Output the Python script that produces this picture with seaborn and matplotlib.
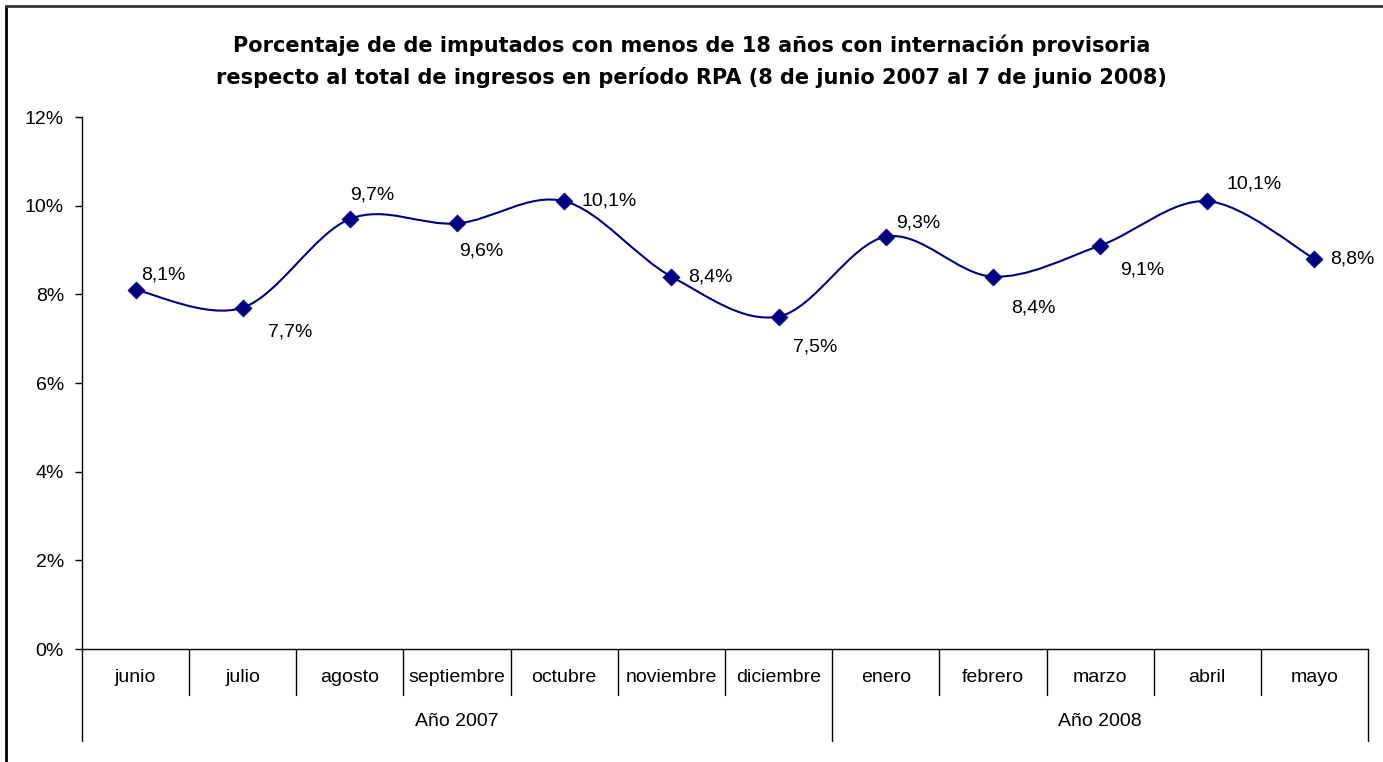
import matplotlib
matplotlib.use("Agg")
import matplotlib.pyplot as plt
import seaborn as sns
import numpy as np
import pandas as pd
from matplotlib.path import Path
from matplotlib.patches import PathPatch
from matplotlib.ticker import FuncFormatter
from matplotlib.lines import Line2D
import matplotlib.transforms as mtransforms

# ---- data ----
months = ["junio", "julio", "agosto", "septiembre", "octubre", "noviembre",
          "diciembre", "enero", "febrero", "marzo", "abril", "mayo"]
years = ["Año 2007", "Año 2008"]
months_per_year = [7, 5]
values = [8.1, 7.7, 9.7, 9.6, 10.1, 8.4, 7.5, 9.3, 8.4, 9.1, 10.1, 8.8]
labels = ["8,1%", "7,7%", "9,7%", "9,6%", "10,1%", "8,4%",
          "7,5%", "9,3%", "8,4%", "9,1%", "10,1%", "8,8%"]
yticks = [0, 2, 4, 6, 8, 10, 12]
title1 = "Porcentaje de de imputados con menos de 18 años con internación provisoria"
title2 = "respecto al total de ingresos en período RPA (8 de junio 2007 al 7 de junio 2008)"

# label offsets in pixels (dx to left edge of text, dy up)
label_offsets = [(6, 15), (25, -24), (0, 24), (2, -28), (17, 0), (17, 0),
                 (14, -30), (10, 14), (18, -31), (20, -24), (19, 17), (16, 0)]

sns.set_style("white")
plt.rcParams["font.family"] = ["Liberation Sans", "DejaVu Sans"]
plt.rcParams["text.color"] = "black"
plt.rcParams["axes.labelcolor"] = "black"
plt.rcParams["xtick.color"] = "black"
plt.rcParams["ytick.color"] = "black"

W, H = 1383, 762
fig = plt.figure(figsize=(W / 100, H / 100), dpi=100)
ax_l, ax_r, ax_t, ax_b = 82, 1368, 117, 649
ax = fig.add_axes([ax_l / W, 1 - ax_b / H, (ax_r - ax_l) / W, (ax_b - ax_t) / H])

df = pd.DataFrame({"x": np.arange(len(months)), "v": values})
navy = "#000080"

# smooth curve (Catmull-Rom style Bezier through the data points)
xs = df["x"].to_numpy(float)
ys = df["v"].to_numpy(float)
verts = [(xs[0], ys[0])]
codes = [Path.MOVETO]
n = len(xs)
for i in range(n - 1):
    p0 = np.array([xs[max(i - 1, 0)], ys[max(i - 1, 0)]])
    p1 = np.array([xs[i], ys[i]])
    p2 = np.array([xs[i + 1], ys[i + 1]])
    p3 = np.array([xs[min(i + 2, n - 1)], ys[min(i + 2, n - 1)]])
    c1 = p1 + (p2 - p0) / 6.0
    c2 = p2 - (p3 - p1) / 6.0
    verts += [tuple(c1), tuple(c2), tuple(p2)]
    codes += [Path.CURVE4] * 3
ax.add_patch(PathPatch(Path(verts, codes), facecolor="none", edgecolor=navy,
                       lw=1.5, zorder=2))

sns.scatterplot(data=df, x="x", y="v", marker="D", s=75, color=navy,
                edgecolor=navy, linewidth=0.5, zorder=3, ax=ax, legend=False)

for i, (lab, (dx, dy)) in enumerate(zip(labels, label_offsets)):
    ax.annotate(lab, (xs[i], ys[i]), xytext=(dx, dy), textcoords="offset pixels",
                ha="left", va="center", fontsize=14, color="black")

ax.set_xlim(-0.5, len(months) - 0.5)
ax.set_ylim(0, 12)
ax.set_yticks(yticks)
ax.yaxis.set_major_formatter(FuncFormatter(lambda v, p: f"{int(v)}%"))
ax.tick_params(axis="y", which="both", left=True, length=5, width=1,
               color="black", labelsize=14, pad=8, labelcolor="black")
ax.set_xticks([])
ax.set_xlabel("")
ax.set_ylabel("")
for s in ["top", "right"]:
    ax.spines[s].set_visible(False)
ax.spines["left"].set_color("black")
ax.spines["bottom"].set_color("black")
ax.spines["left"].set_linewidth(1)
ax.spines["bottom"].set_linewidth(1)

# multi-level category axis
trans = mtransforms.blended_transform_factory(ax.transData, ax.transAxes)
ph = ax_b - ax_t
y_month = -(678 - ax_b) / ph
y_year = -(722 - ax_b) / ph
y_mline = -(695 - ax_b) / ph
y_yline = -(741 - ax_b) / ph

for i, m in enumerate(months):
    ax.text(i, y_month, m, transform=trans, ha="center", va="center",
            fontsize=14, color="black")

boundaries = np.cumsum([0] + months_per_year) - 0.5
for b in np.arange(-0.5, len(months) + 0.5, 1.0):
    bottom = y_yline if np.any(np.isclose(b, boundaries)) else y_mline
    ax.add_line(Line2D([b, b], [0, bottom], transform=trans, color="black",
                       lw=1, clip_on=False))

start = 0
for yr, cnt in zip(years, months_per_year):
    ax.text(start + (cnt - 1) / 2, y_year, yr, transform=trans, ha="center",
            va="center", fontsize=14, color="black")
    start += cnt

# titles
for t, ypix in ((title1, 45), (title2, 77)):
    fig.text(0.5, 1 - ypix / H, t, ha="center", va="center", fontsize=15,
             fontweight="bold", family=["DejaVu Sans"], color="black")

# chart border (left and top visible)
fig.add_artist(Line2D([6 / W, 6 / W], [0, 1 - 6 / H], transform=fig.transFigure,
                      color="black", lw=2))
fig.add_artist(Line2D([6 / W, 1], [1 - 6 / H, 1 - 6 / H], transform=fig.transFigure,
                      color="#333333", lw=2))

fig.savefig("out.png", dpi=100, facecolor="white")
